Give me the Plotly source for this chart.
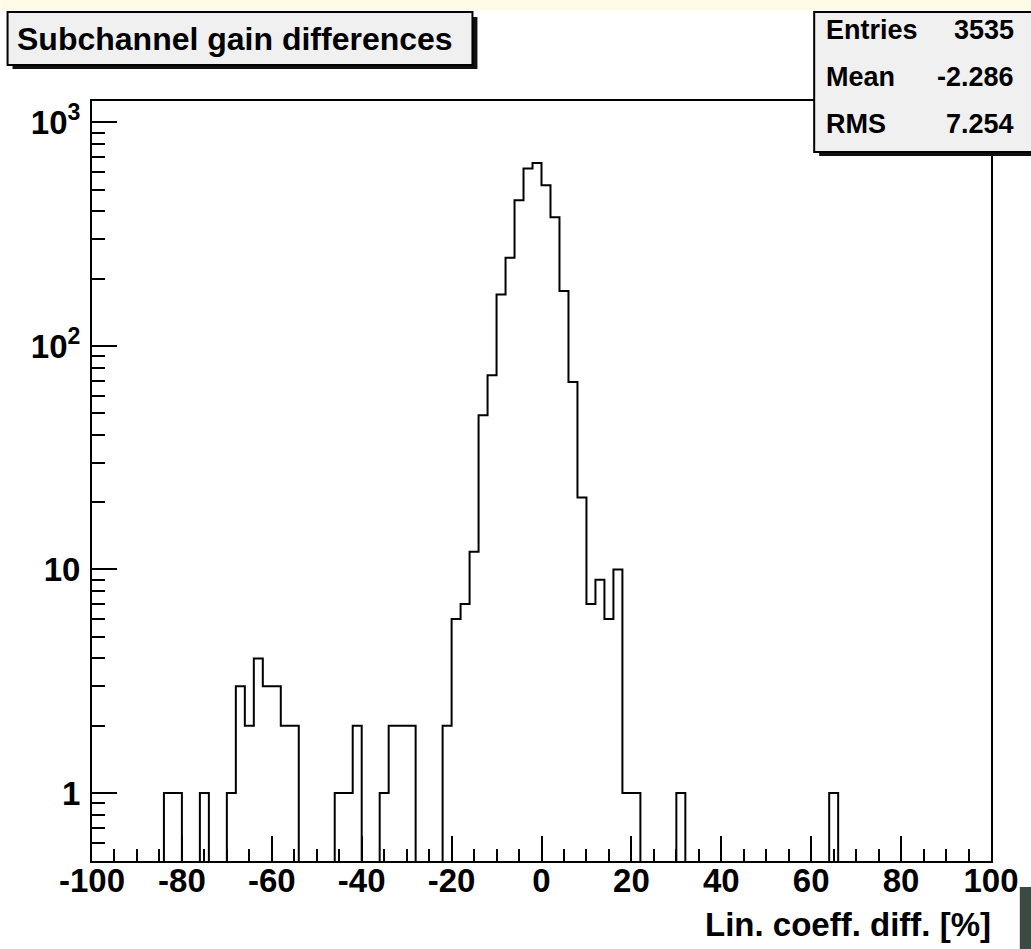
import numpy as np
import plotly.graph_objects as go

# ---- data ----
BIN_MIN = -100
BIN_MAX = 100
BIN_WIDTH = 2

# left edges of the non-empty bins and their counts
bin_left = [-84, -82, -76, -70, -68, -66, -64, -62, -60, -58, -56,
            -46, -44, -42, -36, -34, -32, -30, -22,
            -20, -18, -16, -14, -12, -10, -8, -6, -4, -2,
            0, 2, 4, 6, 8, 10, 12, 14, 16, 18, 20, 30, 64]
bin_count = [1, 1, 1, 1, 3, 2, 4, 3, 3, 2, 2,
             1, 1, 2, 1, 2, 2, 2, 2,
             6, 7, 12, 49, 74, 170, 248, 449, 622, 659,
             524, 377, 176, 69, 21, 7, 9, 6, 10, 1, 1, 1, 1]

x_major_ticks = [-100, -80, -60, -40, -20, 0, 20, 40, 60, 80, 100]
y_major_vals = [1, 10, 100, 1000]
y_major_text = ["1", "10", "10<sup>2</sup>", "10<sup>3</sup>"]
y_minor_vals = [0.6, 0.7, 0.8, 0.9, 2, 3, 4, 5, 6, 7, 8, 9,
                20, 30, 40, 50, 60, 70, 80, 90,
                200, 300, 400, 500, 600, 700, 800, 900]

title_text = "Subchannel gain differences"
x_title = "Lin. coeff. diff. [%]"
stats_names = ["Entries", "Mean", "RMS"]
stats_values = ["3535", "-2.286", "7.254"]

# ---- build histogram outline ----
edges = np.arange(BIN_MIN, BIN_MAX + BIN_WIDTH, BIN_WIDTH)
counts = np.zeros(len(edges) - 1)
for l, c in zip(bin_left, bin_count):
    counts[int((l - BIN_MIN) // BIN_WIDTH)] = c
floor = 1e-3  # empty bins drop below the visible range (clipped at frame)
y_step = np.where(counts > 0, counts, floor)
y_step = np.append(y_step, y_step[-1])

fig = go.Figure()
fig.add_trace(go.Scatter(x=edges, y=y_step, mode="lines",
                         line=dict(color="black", width=2, shape="hv"),
                         hoverinfo="skip", showlegend=False))

# ---- layout geometry (pixels) ----
W, H = 1031, 949
L, R, T, B = 92, 997, 101, 861


def px(X):
    return (X - L) / (R - L)


def py(Y):
    return (B - Y) / (B - T)


FONT = "Liberation Sans, Arial, Helvetica, sans-serif"
tick_font = dict(family=FONT, size=33, color="black", weight="bold")

fig.update_layout(
    width=W, height=H,
    margin=dict(l=L, r=W - R, t=T, b=H - B, pad=0),
    paper_bgcolor="white", plot_bgcolor="white",
    showlegend=False,
    xaxis=dict(range=[BIN_MIN, BIN_MAX], showgrid=False, zeroline=False,
               showline=True, linecolor="black", linewidth=2, mirror=True,
               tickmode="array", tickvals=x_major_ticks,
               ticktext=[str(v) for v in x_major_ticks],
               ticks="inside", ticklen=25, tickwidth=2, tickcolor="black",
               minor=dict(ticks="inside", ticklen=12, tickwidth=1.5,
                          tickcolor="black", dtick=5, tick0=-100, showgrid=False),
               tickfont=tick_font, ticklabelstandoff=-11),
    yaxis=dict(type="log", range=[-0.3043, 3.0961], showgrid=False,
               zeroline=False, showline=True, linecolor="black", linewidth=2,
               mirror=True, tickmode="array", tickvals=y_major_vals,
               ticktext=y_major_text, ticks="inside", ticklen=25, tickwidth=2,
               tickcolor="black",
               minor=dict(ticks="inside", ticklen=13, tickwidth=1.5,
                          tickcolor="black", tickvals=y_minor_vals,
                          showgrid=False),
               tickfont=tick_font, ticklabelstandoff=3),
)

shapes = []
# top cream strip
shapes.append(dict(type="rect", xref="paper", yref="paper", x0=px(0), x1=px(W + 20),
                   y0=py(10), y1=py(0), fillcolor="#fdfbe6", line=dict(width=0),
                   layer="above"))
# title box with shadow
shapes.append(dict(type="rect", xref="paper", yref="paper", x0=px(12), x1=px(480),
                   y0=py(69), y1=py(17), fillcolor="#111111", line=dict(width=0),
                   layer="above"))
shapes.append(dict(type="rect", xref="paper", yref="paper", x0=px(7), x1=px(475),
                   y0=py(65), y1=py(12), fillcolor="#f0f0f0",
                   line=dict(color="black", width=2), layer="above"))
# stats box with shadow (runs off the right edge)
shapes.append(dict(type="rect", xref="paper", yref="paper", x0=px(824), x1=px(1070),
                   y0=py(156), y1=py(17), fillcolor="#111111", line=dict(width=0),
                   layer="above"))
shapes.append(dict(type="rect", xref="paper", yref="paper", x0=px(819), x1=px(1065),
                   y0=py(152), y1=py(12), fillcolor="#f0f0f0",
                   line=dict(color="black", width=2), layer="above"))
# small dark artifact at bottom-right edge
shapes.append(dict(type="rect", xref="paper", yref="paper", x0=px(1026), x1=px(1040),
                   y0=py(955), y1=py(887), fillcolor="#3b4a42", line=dict(width=0),
                   layer="above"))
fig.update_layout(shapes=shapes)

annotations = []
annotations.append(dict(text=title_text, xref="paper", yref="paper",
                        x=px(14), y=py(39), xanchor="left", yanchor="middle",
                        showarrow=False,
                        font=dict(family=FONT, size=32, color="black", weight="bold")))
annotations.append(dict(text=x_title, xref="paper", yref="paper",
                        x=px(999), y=py(924), xanchor="right", yanchor="middle",
                        showarrow=False,
                        font=dict(family=FONT, size=33, color="black", weight="bold")))
row_y = [30, 77, 124]
for name, val, yy in zip(stats_names, stats_values, row_y):
    annotations.append(dict(text=name, xref="paper", yref="paper",
                            x=px(829), y=py(yy), xanchor="left", yanchor="middle",
                            showarrow=False,
                            font=dict(family=FONT, size=27, color="black", weight="bold")))
    annotations.append(dict(text=val, xref="paper", yref="paper",
                            x=px(1022), y=py(yy), xanchor="right", yanchor="middle",
                            showarrow=False,
                            font=dict(family=FONT, size=27, color="black", weight="bold")))
fig.update_layout(annotations=annotations)

fig.write_html("out.html",
               config={"displayModeBar": False},
               post_script="document.body.style.margin='0';"
                           "document.body.style.overflow='hidden';")
